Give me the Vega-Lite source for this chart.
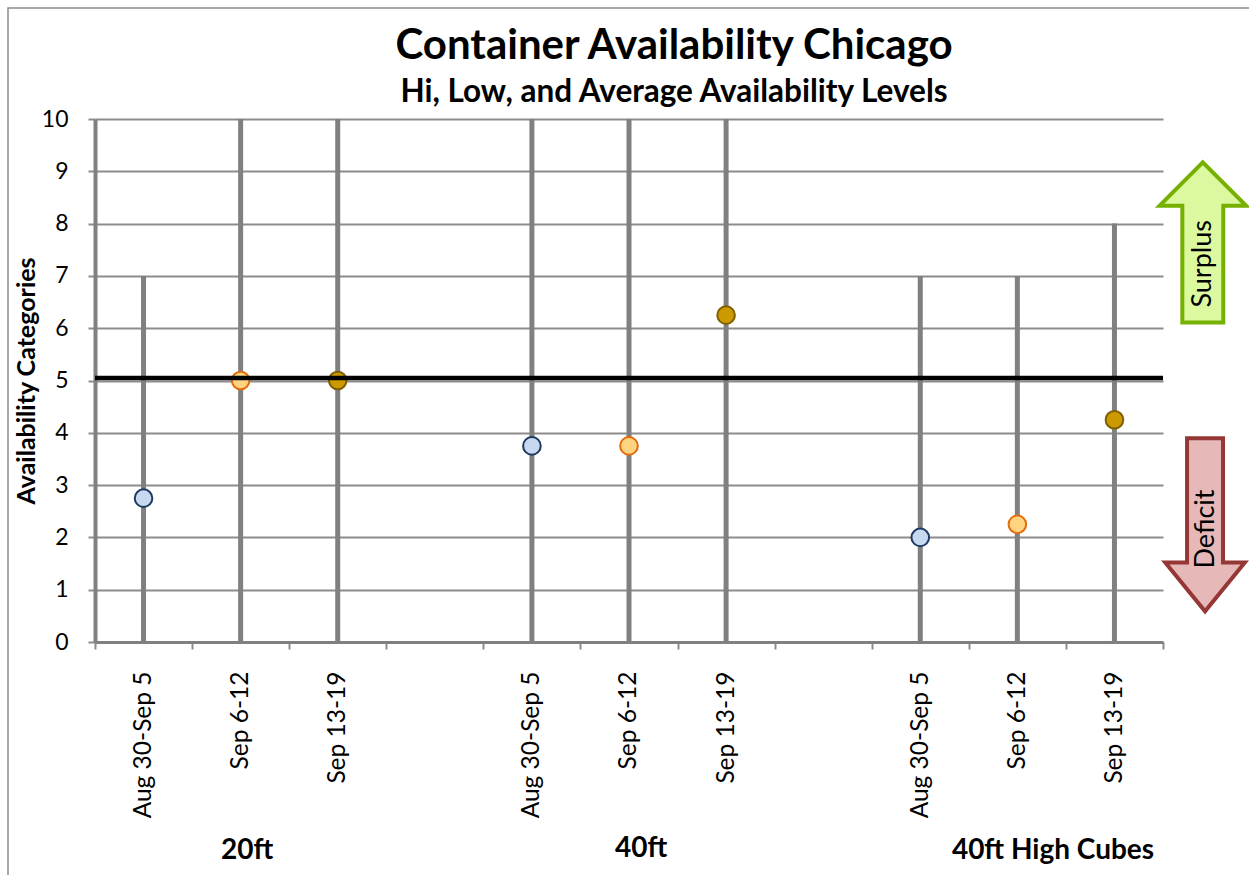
{
  "$schema": "https://vega.github.io/schema/vega-lite/v6.json",
  "width": 1068,
  "height": 523,
  "autosize": "none",
  "padding": {"left": 95, "top": 119, "right": 86, "bottom": 233},
  "background": "white",
  "title": {
    "text": "Container Availability Chicago",
    "subtitle": "Hi, Low, and Average Availability Levels",
    "fontSize": 42,
    "fontWeight": "bold",
    "subtitleFontSize": 31.5,
    "subtitleFontWeight": "bold",
    "color": "black",
    "subtitleColor": "black",
    "anchor": "middle",
    "frame": "group",
    "dx": 45,
    "offset": -102,
    "subtitlePadding": 9
  },
  "config": {
    "font": "Lato",
    "view": {"stroke": null},
    "axis": {"labelColor": "black", "titleColor": "black"}
  },
  "layer": [
    {
      "data": {"values": [{"x": -0.896, "x2": 13, "y": 12.12, "y2": -8}]},
      "mark": {"type": "rect", "fillOpacity": 0, "stroke": "#8c8c8c", "strokeWidth": 1.5, "clip": false},
      "encoding": {
        "x": {"field": "x", "type": "quantitative", "scale": {"domain": [0, 11], "nice": false, "zero": false}},
        "x2": {"field": "x2"},
        "y": {"field": "y", "type": "quantitative", "scale": {"domain": [0, 10], "nice": false}},
        "y2": {"field": "y2"}
      }
    },
    {
      "data": {
        "values": [
          {"group": "20ft", "week": "Aug 30-Sep 5", "pos": 0.5, "low": 0, "high": 7, "avg": 2.75},
          {"group": "20ft", "week": "Sep 6-12", "pos": 1.5, "low": 0, "high": 10, "avg": 5},
          {"group": "20ft", "week": "Sep 13-19", "pos": 2.5, "low": 0, "high": 10, "avg": 5},
          {"group": "40ft", "week": "Aug 30-Sep 5", "pos": 4.5, "low": 0, "high": 10, "avg": 3.75},
          {"group": "40ft", "week": "Sep 6-12", "pos": 5.5, "low": 0, "high": 10, "avg": 3.75},
          {"group": "40ft", "week": "Sep 13-19", "pos": 6.5, "low": 0, "high": 10, "avg": 6.25},
          {"group": "40ft High Cubes", "week": "Aug 30-Sep 5", "pos": 8.5, "low": 0, "high": 7, "avg": 2},
          {"group": "40ft High Cubes", "week": "Sep 6-12", "pos": 9.5, "low": 0, "high": 7, "avg": 2.25},
          {"group": "40ft High Cubes", "week": "Sep 13-19", "pos": 10.5, "low": 0, "high": 8, "avg": 4.25}
        ]
      },
      "layer": [
        {
          "mark": {"type": "rule", "color": "#808080", "strokeWidth": 5},
          "encoding": {
            "x": {
              "field": "pos",
              "type": "quantitative",
              "scale": {"domain": [0, 11], "nice": false, "zero": false},
              "axis": {
                "title": null,
                "values": [0, 1, 2, 3, 4, 5, 6, 7, 8, 9, 10, 11],
                "labelExpr": "datum.value % 4 == 0 ? 'Aug 30-Sep 5' : datum.value % 4 == 1 ? 'Sep 6-12' : datum.value % 4 == 2 ? 'Sep 13-19' : ''",
                "labelOffset": 48.5,
                "labelAngle": -90,
                "labelAlign": "right",
                "labelBaseline": "middle",
                "labelFontSize": 24.5,
                "labelPadding": 22,
                "labelOverlap": false,
                "labelBound": false,
                "labelFlush": false,
                "domainColor": "#808080",
                "domainWidth": 3,
                "tickColor": "#8c8c8c",
                "tickWidth": 2,
                "tickSize": 7,
                "grid": false
              }
            },
            "y": {
              "field": "low",
              "type": "quantitative",
              "scale": {"domain": [0, 10], "nice": false},
              "axis": {
                "title": "Availability Categories",
                "titleFontSize": 25,
                "titleFontWeight": "bold",
                "titlePadding": 2,
                "values": [0, 1, 2, 3, 4, 5, 6, 7, 8, 9, 10],
                "labelFontSize": 23,
                "labelPadding": 20,
                "grid": true,
                "gridColor": "#8c8c8c",
                "gridWidth": 2,
                "domainColor": "#808080",
                "domainWidth": 4,
                "tickColor": "#8c8c8c",
                "tickWidth": 2,
                "tickSize": 7
              }
            },
            "y2": {"field": "high"}
          }
        },
        {
          "mark": {"type": "circle", "size": 310, "strokeWidth": 2, "opacity": 1},
          "encoding": {
            "x": {"field": "pos", "type": "quantitative"},
            "y": {"field": "avg", "type": "quantitative"},
            "fill": {
              "field": "week",
              "type": "nominal",
              "scale": {"domain": ["Aug 30-Sep 5", "Sep 6-12", "Sep 13-19"], "range": ["#c6d9f1", "#ffd480", "#cc9900"]},
              "legend": null
            },
            "stroke": {
              "field": "week",
              "type": "nominal",
              "scale": {"domain": ["Aug 30-Sep 5", "Sep 6-12", "Sep 13-19"], "range": ["#1f3a60", "#e46c0a", "#7f6000"]},
              "legend": null
            }
          }
        }
      ]
    },
    {
      "data": {"values": [{"level": 5.05}]},
      "mark": {"type": "rule", "color": "black", "strokeWidth": 4.5},
      "encoding": {
        "y": {"field": "level", "type": "quantitative"}
      }
    },
    {
      "data": {"values": [{"label": "Surplus", "x": 11.41, "y": 7.64}]},
      "mark": {
        "type": "point",
        "shape": "M0,-1L0.54,-0.46L0.256,-0.46L0.256,1L-0.256,1L-0.256,-0.46L-0.54,-0.46Z",
        "size": 25600,
        "filled": true,
        "fill": "#dcf9a0",
        "stroke": "#76b000",
        "strokeWidth": 4,
        "opacity": 1,
        "clip": false
      },
      "encoding": {
        "x": {"field": "x", "type": "quantitative"},
        "y": {"field": "y", "type": "quantitative"}
      }
    },
    {
      "data": {"values": [{"label": "Deficit", "x": 11.433, "y": 2.24}]},
      "mark": {
        "type": "point",
        "shape": "M-0.208,-1L0.208,-1L0.208,0.434L0.46,0.434L0,1L-0.46,0.434L-0.208,0.434Z",
        "size": 29929,
        "filled": true,
        "fill": "#e6b9b8",
        "stroke": "#953735",
        "strokeWidth": 4,
        "opacity": 1,
        "clip": false
      },
      "encoding": {
        "x": {"field": "x", "type": "quantitative"},
        "y": {"field": "y", "type": "quantitative"}
      }
    },
    {
      "data": {"values": [{"label": "Surplus", "x": 11.417, "y": 7.23}, {"label": "Deficit", "x": 11.443, "y": 2.16}]},
      "mark": {"type": "text", "angle": 270, "fontSize": 27, "color": "black", "align": "center", "baseline": "middle", "clip": false},
      "encoding": {
        "x": {"field": "x", "type": "quantitative"},
        "y": {"field": "y", "type": "quantitative"},
        "text": {"field": "label", "type": "nominal"}
      }
    },
    {
      "data": {"values": [{"group": "20ft", "x": 1.566, "y": -4.0}, {"group": "40ft", "x": 5.624, "y": -3.95}, {"group": "40ft High Cubes", "x": 9.867, "y": -4.0}]},
      "mark": {"type": "text", "fontSize": 28, "fontWeight": "bold", "color": "black", "align": "center", "baseline": "middle", "clip": false},
      "encoding": {
        "x": {"field": "x", "type": "quantitative"},
        "y": {"field": "y", "type": "quantitative"},
        "text": {"field": "group", "type": "nominal"}
      }
    }
  ]
}
